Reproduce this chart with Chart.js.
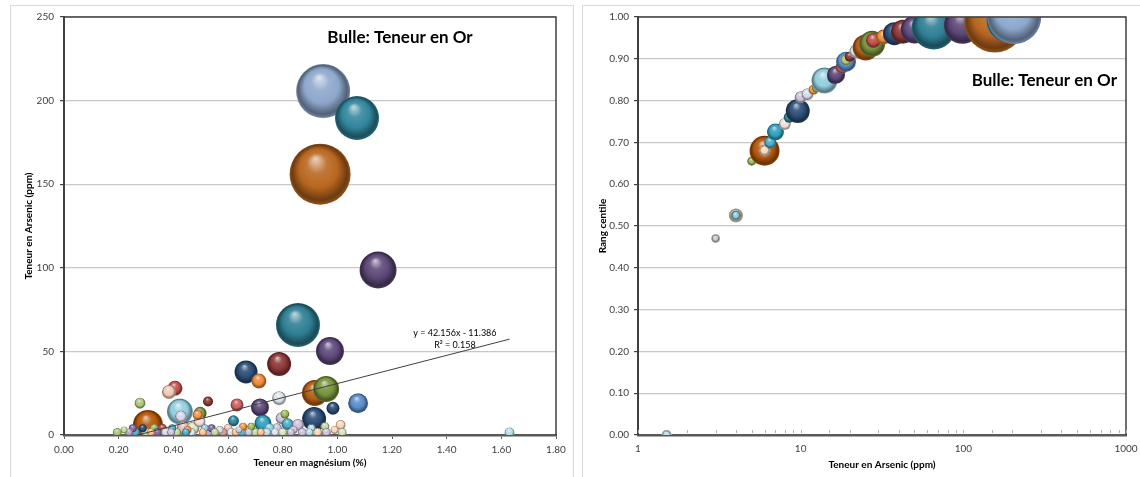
<!DOCTYPE html>
<html lang="fr">
<head>
<meta charset="utf-8">
<title>Bulle: Teneur en Or</title>
<script src="https://cdn.jsdelivr.net/npm/chart.js@4.4.1/dist/chart.umd.min.js"></script>
<style>
	html, body { margin: 0; padding: 0; background: #fff; }
	body { width: 1140px; height: 477px; position: relative; overflow: hidden; }
	.cadre { position: absolute; border: 1px solid #d9d9d9; box-sizing: border-box; }
	canvas { position: absolute; }
</style>
</head>
<body>
<div class="cadre" style="left:10px;top:5px;width:564px;height:490px"></div>
<div class="cadre" style="left:582px;top:5px;width:570px;height:490px"></div>
<canvas id="chartMagnesium" width="563" height="472" style="left:10px;top:5px"></canvas>
<canvas id="chartCentile" width="557" height="472" style="left:583px;top:5px"></canvas>
<script>
'use strict';

// Échantillons : magnésium (%), arsenic (ppm), or (g/t), rang centile de l'arsenic
const magnesium = [
	0.948, 1.072, 0.937, 1.149, 0.856, 0.973, 0.787, 0.666, 0.713, 0.406,
	0.918, 0.959, 0.384, 0.787, 0.527, 1.076, 0.278, 0.633, 0.717, 0.984,
	0.424, 0.498, 0.489, 0.808, 0.428, 0.796, 0.915, 0.728, 0.620, 0.496,
	0.307, 0.818, 0.856, 1.012, 0.472, 0.655, 0.685, 0.955, 0.540, 0.252,
	0.330, 0.779, 0.396, 0.905, 0.360, 0.600, 0.288, 0.752, 0.438, 0.515,
	0.220, 0.452, 0.570, 0.840, 0.640, 0.990, 0.195, 0.238, 0.262, 0.300,
	0.318, 0.342, 0.372, 0.392, 0.412, 0.446, 0.466, 0.508, 0.530, 0.552,
	0.582, 0.612, 0.628, 0.652, 0.676, 0.700, 0.720, 0.742, 0.772, 0.800,
	0.830, 0.872, 0.898, 0.928, 0.960, 1.018, 1.630
];

const arsenic = [
	205.7, 189.6, 156.0, 98.7, 65.8, 50.2, 42.5, 37.7, 32.3, 28.0,
	25.1, 27.5, 25.7, 22.0, 20.0, 19.0, 19.0, 18.0, 16.5, 16.0,
	14.0, 13.0, 12.0, 12.5, 11.0, 10.0, 9.6, 7.0, 8.5, 8.0,
	6.0, 6.5, 6.0, 6.0, 4.0, 5.0, 5.0, 5.0, 4.0, 4.0,
	4.0, 4.0, 4.0, 4.0, 4.0, 4.0, 4.0, 4.0, 4.0, 4.0,
	3.0, 3.0, 3.0, 3.0, 3.0, 3.0, 1.5, 1.5, 1.5, 1.5,
	1.5, 1.5, 1.5, 1.5, 1.5, 1.5, 1.5, 1.5, 1.5, 1.5,
	1.5, 1.5, 1.5, 1.5, 1.5, 1.5, 1.5, 1.5, 1.5, 1.5,
	1.5, 1.5, 1.5, 1.5, 1.5, 1.5, 1.5
];

const teneurOr = [
	7.29, 4.84, 9.30, 3.42, 4.84, 1.96, 1.44, 1.32, 0.56, 0.56,
	1.69, 1.69, 0.49, 0.49, 0.25, 1.00, 0.30, 0.42, 0.81, 0.42,
	1.69, 0.42, 0.25, 0.20, 0.36, 0.36, 1.44, 0.72, 0.30, 0.36,
	2.25, 0.36, 0.36, 0.25, 0.42, 0.16, 0.16, 0.20, 0.16, 0.16,
	0.20, 0.25, 0.16, 0.16, 0.20, 0.20, 0.16, 0.25, 0.49, 0.16,
	0.12, 0.16, 0.16, 0.16, 0.12, 0.16, 0.20, 0.16, 0.20, 0.20,
	0.16, 0.20, 0.20, 0.16, 0.20, 0.16, 0.20, 0.16, 0.20, 0.16,
	0.20, 0.20, 0.16, 0.20, 0.16, 0.20, 0.16, 0.20, 0.16, 0.20,
	0.16, 0.20, 0.16, 0.20, 0.20, 0.20, 0.25
];

const rangCentile = [
	1.000, 0.992, 0.988, 0.980, 0.975, 0.970, 0.965, 0.960, 0.952, 0.944,
	0.927, 0.936, 0.931, 0.918, 0.905, 0.893, 0.897, 0.880, 0.862, 0.856,
	0.848, 0.838, 0.826, 0.830, 0.815, 0.808, 0.775, 0.725, 0.760, 0.744,
	0.680, 0.700, 0.680, 0.680, 0.525, 0.655, 0.655, 0.655, 0.525, 0.525,
	0.525, 0.525, 0.525, 0.525, 0.525, 0.525, 0.525, 0.525, 0.525, 0.525,
	0.470, 0.470, 0.470, 0.470, 0.470, 0.470, 0, 0, 0, 0,
	0, 0, 0, 0, 0, 0, 0, 0, 0, 0,
	0, 0, 0, 0, 0, 0, 0, 0, 0, 0,
	0, 0, 0, 0, 0, 0, 0
];

// Couleurs des bulles (une par échantillon)
const couleurs = [
	'#8DA7CC', '#31859C', '#B8661F', '#5C4776', '#2E7E93', '#5E497A', '#8C3836', '#2C4D75', '#EE8A38', '#C0504D',
	'#B65E14', '#77933C', '#F2C9B4', '#DDE3ED', '#8C3836', '#5B8DCB', '#AFC97A', '#D0605C', '#5C4776', '#2C4D75',
	'#93CDDD', '#77933C', '#F79646', '#9BBB59', '#D3D9E6', '#CCC1DA', '#2C4D75', '#31A0BD', '#31859C', '#F2DCDB',
	'#B65708', '#4BACC6', '#CCC1DA', '#FCD5B5', '#D7E4BD', '#F79646', '#9BBB59', '#C3D69B', '#8064A2', '#8064A2',
	'#9BBB59', '#CCC1DA', '#4BACC6', '#B7DEE8', '#C0504D', '#F2C4B6', '#2C4D75', '#93CDDD', '#E6B9B8', '#93CDDD',
	'#C3D69B', '#F79646', '#D9D9D9', '#CCC1DA', '#C5CDD9', '#FCD5B5', '#AFC97A', '#B3A2C7', '#4BACC6', '#C3D69B',
	'#FAC090', '#8064A2', '#D9D9D9', '#CCC1DA', '#C3D69B', '#4BACC6', '#DCE3ED', '#FAC090', '#B3A2C7', '#C3D69B',
	'#D99694', '#DCE3ED', '#FAC090', '#4BACC6', '#CCC1DA', '#C3D69B', '#FAC090', '#B7DEE8', '#DCE3ED', '#D7E4BD',
	'#CCC1DA', '#CCC1DA', '#B7DEE8', '#FCD5B5', '#CCC1DA', '#D7E4BD', '#B7DEE8'
];

// Échelles
const echelleMg = { min: 0, max: 1.8, pas: 0.2 };
const echelleAs = { min: 0, max: 250, pas: 50 };
const echelleAsLog = { min: 1, max: 1000 };
const echelleRang = { min: 0, max: 1, pas: 0.1 };

// Tendance linéaire As = f(Mg)
const pente = 42.156;
const ordonnee = -11.386;
const r2 = 0.158;

const TITRE = 'Bulle: Teneur en Or';
const POLICE = 'Lato, "Open Sans", sans-serif';
const RAYON_MAX = 30.5;

// Rayon d'une bulle (surface proportionnelle à la teneur en or)
const orMax = Math.max(...teneurOr);
function rayon(v) {
	return RAYON_MAX * Math.sqrt(v / orMax);
}

// Mélange vers le blanc (t > 0) ou le noir (t < 0)
function teinte(hex, t) {
	const n = parseInt(hex.slice(1), 16);
	const c = [n >> 16, (n >> 8) & 255, n & 255];
	const cible = t > 0 ? 255 : 0;
	const k = Math.abs(t);
	return 'rgb(' + c.map(v => Math.round(v + (cible - v) * k)).join(',') + ')';
}

// Remplissage en sphère (reflet en haut, ombre en bas)
function sphere(context) {
	const p = context.raw;
	if (context.type !== 'data' || !p) return '#999';
	const chart = context.chart;
	const x = chart.scales.x.getPixelForValue(p.x);
	const y = chart.scales.y.getPixelForValue(p.y);
	const r = p.r;
	const base = p.couleur;
	// les échelles ne sont pas encore placées au premier passage
	if (!isFinite(x) || !isFinite(y)) return base;
	const g = chart.ctx.createRadialGradient(x - r * 0.15, y - r * 0.5, r * 0.04, x, y, r);
	g.addColorStop(0, teinte(base, 0.65));
	g.addColorStop(0.3, teinte(base, 0.12));
	g.addColorStop(0.62, base);
	g.addColorStop(0.9, teinte(base, -0.42));
	g.addColorStop(1, teinte(base, -0.2));
	return g;
}

// Ordre de tracé : par taille décroissante (Mg / As),
// par arsenic croissant puis taille décroissante (rang centile)
const indices = teneurOr.map((v, i) => i);
const ordreTaille = indices.slice().sort((a, b) => teneurOr[b] - teneurOr[a]);
const ordreArsenic = indices.slice().sort((a, b) => (arsenic[a] - arsenic[b]) || (teneurOr[b] - teneurOr[a]));

function bulles(valeursX, valeursY, ordre) {
	return ordre.map(i => ({
		x: valeursX[i],
		y: valeursY[i],
		r: rayon(teneurOr[i]),
		couleur: couleurs[i]
	}));
}

// Cadre de la zone de traçage, titre, équation, graduations secondaires
const habillage = {
	id: 'habillage',
	afterDraw(chart, args, opts) {
		const { ctx, chartArea: a } = chart;
		ctx.save();

		ctx.strokeStyle = '#404040';
		ctx.lineWidth = 1.5;
		ctx.beginPath();
		ctx.moveTo(a.left, a.top);
		ctx.lineTo(a.right, a.top);
		ctx.lineTo(a.right, a.bottom);
		ctx.stroke();

		if (opts.graduations) {
			const sx = chart.scales.x;
			ctx.strokeStyle = '#b0b0b0';
			ctx.lineWidth = 1;
			sx.ticks.forEach(t => {
				const px = Math.round(sx.getPixelForValue(t.value)) + 0.5;
				ctx.beginPath();
				ctx.moveTo(px, a.bottom - 2);
				ctx.lineTo(px, a.bottom - 5);
				ctx.stroke();
			});
		}

		ctx.fillStyle = '#000';
		ctx.font = 'bold 17px ' + POLICE;
		ctx.textAlign = opts.titre.align;
		ctx.textBaseline = 'middle';
		ctx.fillText(TITRE, a.left + (a.right - a.left) * opts.titre.x, a.top + (a.bottom - a.top) * opts.titre.y);

		if (opts.equation) {
			const sx = chart.scales.x;
			const sy = chart.scales.y;
			const ex = sx.getPixelForValue(opts.equation.x);
			ctx.font = '9px ' + POLICE;
			ctx.textAlign = 'center';
			ctx.fillText('y = ' + pente.toFixed(3) + 'x - ' + Math.abs(ordonnee).toFixed(3), ex, sy.getPixelForValue(opts.equation.y));
			ctx.fillText('R² = ' + r2.toFixed(3), ex, sy.getPixelForValue(opts.equation.y - 7.5));
		}
		ctx.restore();
	}
};

function policeGraduation() {
	return { family: POLICE, size: 10 };
}

function policeTitreAxe() {
	return { family: POLICE, size: 10, weight: 'bold' };
}

// Graphique Mg / As
function initMagnesiumChart() {
	const canvas = document.getElementById('chartMagnesium');
	const xMin = Math.min(...magnesium);
	const xMax = Math.max(...magnesium);

	new Chart(canvas, {
		type: 'bubble',
		data: {
			datasets: [{
				type: 'line',
				data: [
					{ x: xMin, y: pente * xMin + ordonnee },
					{ x: xMax, y: pente * xMax + ordonnee }
				],
				borderColor: '#404040',
				borderWidth: 1,
				pointRadius: 0,
				fill: false,
				clip: 0,
				order: 0
			}, {
				data: bulles(magnesium, arsenic, ordreTaille),
				backgroundColor: sphere,
				borderWidth: 0,
				hoverRadius: 0,
				clip: 0,
				order: 1
			}]
		},
		options: {
			responsive: false,
			animation: false,
			events: [],
			layout: { autoPadding: false, padding: { top: 12, right: 17, left: 0, bottom: 0 } },
			plugins: {
				legend: { display: false },
				tooltip: { enabled: false },
				habillage: {
					titre: { x: 0.683, y: 0.048, align: 'center' },
					equation: { x: 1.43, y: 61 }
				}
			},
			scales: {
				x: {
					type: 'linear',
					min: echelleMg.min,
					max: echelleMg.max,
					z: 1,
					ticks: {
						stepSize: echelleMg.pas,
						callback: v => v.toFixed(2),
						color: '#404040',
						font: policeGraduation(),
						padding: 5,
						maxRotation: 0,
						autoSkip: false
					},
					grid: { drawOnChartArea: false, tickLength: 4, tickColor: '#595959' },
					border: { color: '#595959', width: 2.5 },
					title: {
						display: true,
						text: 'Teneur en magnésium (%)',
						color: '#000',
						font: policeTitreAxe(),
						padding: { top: 0, bottom: 8 }
					},
					afterFit: s => { s.height = 42; }
				},
				y: {
					type: 'linear',
					min: echelleAs.min,
					max: echelleAs.max,
					ticks: {
						stepSize: echelleAs.pas,
						color: '#404040',
						font: policeGraduation(),
						padding: 6
					},
					grid: { color: '#c8c8c8', lineWidth: 1.2, tickLength: 4, tickColor: '#404040' },
					border: { color: '#404040', width: 2 },
					title: {
						display: true,
						text: 'Teneur en Arsenic (ppm)',
						color: '#000',
						font: policeTitreAxe(),
						padding: { top: 13, bottom: 0 }
					},
					afterFit: s => { s.width = 54; }
				}
			}
		},
		plugins: [habillage]
	});
}

// Graphique As (log) / rang centile
function initCentileChart() {
	const canvas = document.getElementById('chartCentile');

	new Chart(canvas, {
		type: 'bubble',
		data: {
			datasets: [{
				data: bulles(arsenic, rangCentile, ordreArsenic),
				backgroundColor: sphere,
				borderWidth: 0,
				hoverRadius: 0,
				clip: 0
			}]
		},
		options: {
			responsive: false,
			animation: false,
			events: [],
			layout: { autoPadding: false, padding: { top: 12, right: 14, left: 0, bottom: 0 } },
			plugins: {
				legend: { display: false },
				tooltip: { enabled: false },
				habillage: {
					titre: { x: 0.9816, y: 0.151, align: 'right' },
					graduations: true
				}
			},
			scales: {
				x: {
					type: 'logarithmic',
					min: echelleAsLog.min,
					max: echelleAsLog.max,
					z: 1,
					ticks: {
						autoSkip: false,
						maxRotation: 0,
						color: '#404040',
						font: policeGraduation(),
						padding: 0,
						callback: v => {
							const l = Math.log10(v);
							return Math.abs(l - Math.round(l)) < 1e-9 ? String(Math.round(v)) : '';
						}
					},
					// marques invisibles : elles ne servent qu'à décaler les libellés
					grid: { drawOnChartArea: false, drawTicks: true, tickLength: 8, tickColor: 'rgba(0,0,0,0)' },
					border: { color: '#595959', width: 2.5 },
					title: {
						display: true,
						text: 'Teneur en Arsenic (ppm)',
						color: '#000',
						font: policeTitreAxe(),
						padding: { top: 0, bottom: 6 }
					},
					afterFit: s => { s.height = 42; }
				},
				y: {
					type: 'linear',
					min: echelleRang.min,
					max: echelleRang.max,
					ticks: {
						stepSize: echelleRang.pas,
						callback: v => v.toFixed(2),
						color: '#404040',
						font: policeGraduation(),
						padding: 5
					},
					grid: { color: '#c8c8c8', lineWidth: 1.2, tickLength: 4, tickColor: '#404040' },
					border: { color: '#404040', width: 2 },
					title: {
						display: true,
						text: 'Rang centile',
						color: '#000',
						font: policeTitreAxe(),
						padding: { top: 14, bottom: 0 }
					},
					afterFit: s => { s.width = 55; }
				}
			}
		},
		plugins: [habillage]
	});
}

document.addEventListener('DOMContentLoaded', function() {
	initMagnesiumChart();
	initCentileChart();
});
</script>
</body>
</html>
